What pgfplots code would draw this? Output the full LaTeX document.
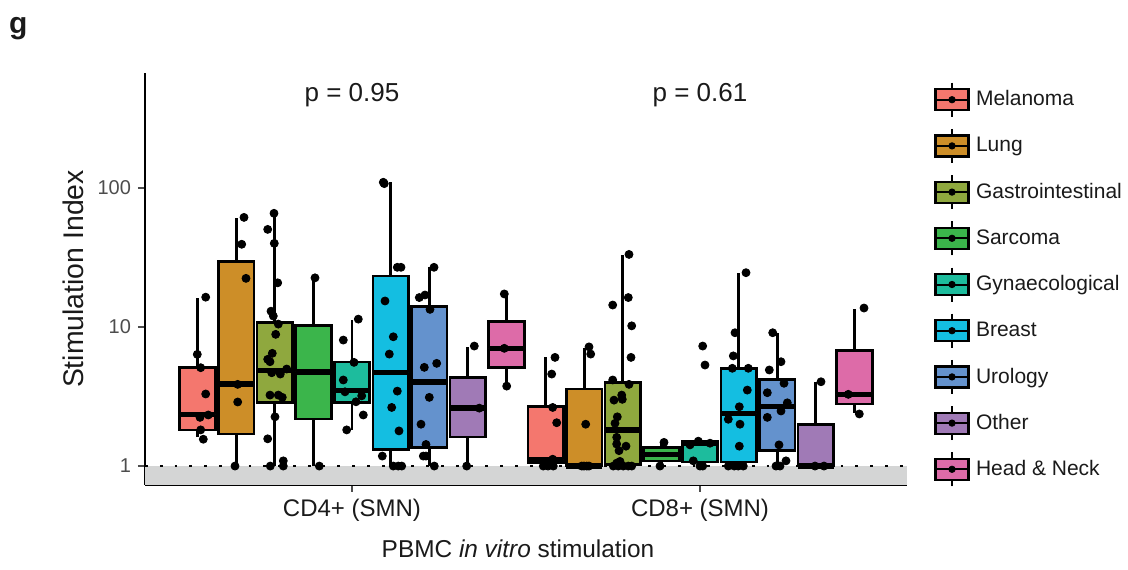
\documentclass[border=0pt]{standalone}
\usepackage{fontspec}
\setmainfont{Liberation Sans}
\usepackage{pgfplots}
\usepackage{pgfplotstable}
\usepgfplotslibrary{statistics}
\pgfplotsset{compat=1.18}

\definecolor{cMel}{HTML}{F4776E}
\definecolor{cLun}{HTML}{CD8E28}
\definecolor{cGas}{HTML}{8FA83E}
\definecolor{cSar}{HTML}{3BB54B}
\definecolor{cGyn}{HTML}{1DBC9D}
\definecolor{cBre}{HTML}{14BEE1}
\definecolor{cUro}{HTML}{6492CD}
\definecolor{cOth}{HTML}{A07AB6}
\definecolor{cHea}{HTML}{DD6BA8}
\definecolor{band}{HTML}{D4D5D5}
\definecolor{txt}{HTML}{1A1A1A}
\definecolor{tick}{HTML}{4D4D4D}

% jittered points: x = position on the plot, y = stimulation index
\pgfplotstableread{
x y
205.7 16.4
197.3 6.36
200.7 5.10
205.7 3.30
200.0 2.24
208.3 2.33
200.7 1.82
203.3 1.56
244.0 61.5
241.7 39.4
246.0 22.4
237.7 3.87
237.7 2.89
235.0 1.0
274.0 65.8
267.7 50.4
274.3 40.0
277.7 20.8
271.0 13.0
273.3 12.0
278.3 10.5
275.7 8.86
272.3 6.47
267.7 5.86
270.0 5.63
271.7 4.69
280.3 4.59
286.7 4.99
270.0 3.24
278.3 3.24
282.3 3.12
275.0 2.26
267.7 1.57
283.3 1.09
283.3 1.0
270.3 1.0
315.0 22.6
319.3 1.0
358.3 11.4
343.3 8.06
354.0 5.57
343.3 4.16
345.0 3.42
361.7 3.20
356.0 2.90
363.3 2.33
346.7 1.82
383.3 110
384.3 107.6
397.3 26.9
401.0 26.9
385.0 15.4
393.3 8.51
389.3 6.39
397.3 3.46
391.7 2.64
399.0 1.79
382.3 1.18
393.3 1.0
398.3 1.0
401.7 1.0
434.0 26.9
419.3 16.3
425.0 17.0
430.0 13.4
424.3 5.13
436.7 5.48
429.3 3.12
421.0 2.00
426.0 1.43
423.3 1.18
426.0 1.18
434.3 1.0
474.3 7.3
479.3 2.61
466.7 1.0
504.3 17.3
504.3 7.03
506.7 3.76
}\ptsCDfour

\pgfplotstableread{
x y
555.0 6.05
551.7 4.59
552.7 2.64
556.7 2.05
552.7 1.12
553.3 1.10
543.3 1.0
553.3 1.0
548.0 1.0
589.0 7.2
590.7 6.39
585.7 2.0
581.7 1.0
586.7 1.0
589.0 1.0
584.0 1.0
629.0 33.3
628.3 16.3
612.7 14.4
631.7 10.2
631.0 6.05
612.7 4.16
629.0 3.87
621.7 3.24
622.3 3.02
614.0 2.98
617.3 2.26
615.0 2.03
616.7 1.61
626.0 1.39
616.7 1.44
619.0 1.29
620.0 1.08
616.7 1.05
618.3 1.0
623.3 1.0
628.3 1.0
631.7 1.0
613.3 1.0
664.0 1.48
660.0 1.0
702.7 7.3
705.0 5.33
690.0 1.42
698.3 1.51
710.0 1.46
693.3 1.09
700.0 1.0
702.7 1.0
746.0 24.6
735.0 9.1
733.3 6.2
732.3 5.05
748.3 5.05
747.3 3.52
739.3 2.67
728.3 2.17
740.0 2.0
739.3 1.39
728.3 1.0
734.3 1.0
738.3 1.0
743.3 1.0
772.7 9.1
781.0 5.63
769.3 4.91
784.0 3.94
767.3 3.37
787.3 2.85
781.0 2.49
767.3 2.24
779.0 1.42
786.0 1.09
776.0 1.0
780.0 1.0
821.0 4.04
824.0 1.0
815.0 1.0
864.0 13.7
848.3 3.28
859.3 2.37
}\ptsCDeight

\begin{document}
\begin{tikzpicture}
\begin{axis}[
  scale only axis, width=381pt, height=205.6pt,
  xmin=145, xmax=907, ymode=log, ymin=0.736, ymax=668,
  axis x line*=bottom, axis y line*=left,
  axis line style={line width=1.2pt, black},
  xtick={352,700}, xticklabels={CD4+ (SMN),CD8+ (SMN)},
  ytick={1,10,100}, yticklabels={1,10,100},
  yminorticks=false, xminorticks=false,
  tick align=outside, major tick length=3.5pt,
  tick style={line width=1.1pt, color=tick},
  /pgf/number format/assume math mode=true,
  xticklabel style={font=\fontsize{12}{14}\selectfont, text=txt},
  yticklabel style={font=\fontsize{10}{12}\selectfont, text=tick},
  xlabel={PBMC \textit{in vitro} stimulation},
  ylabel={Stimulation Index},
  xlabel style={at={(axis cs:518,0.2529)}, anchor=center,
    font=\fontsize{12.2}{14}\selectfont, text=txt},
  ylabel style={at={(axis cs:73,22.14)}, anchor=center,
    font=\fontsize{14.2}{16}\selectfont, text=txt},
  clip=false,
  boxplot/draw direction=y,
  boxplot/box extend=35.5,
  boxplot/whisker extend=0,
  boxplot/every box/.style={line width=1.35pt},
  boxplot/every whisker/.style={line width=1.35pt},
  boxplot/every median/.style={line width=2.7pt},
  legend image code/.code={
    \draw[black, line width=1pt] (8.25pt,-8.5pt) -- (8.25pt,8.5pt);
    \draw[#1, draw=black, line width=1.1pt] (0pt,-5.25pt) rectangle (16.5pt,5.25pt);
    \draw[black, line width=1pt] (0pt,0pt) -- (16.5pt,0pt);
    \fill[black] (8.25pt,0pt) circle (1.6pt);
  },
  legend cell align=left,
  legend style={at={(axis cs:928,626)}, anchor=north west, draw=none, fill=none,
    row sep=5.1pt, column sep=1.2pt, font=\fontsize{10.5}{12}\selectfont, text=txt},
]
% reference band below 1
\addplot[draw=none, fill=band, forget plot] coordinates {(145,0.736) (145,1) (907,1) (907,0.736)} -- cycle;
\addplot[black, line width=1.3pt, dash pattern=on 1.4pt off 6pt, forget plot] coordinates {(145,1) (907,1)};

% CD4+ boxes
\addplot[boxplot prepared={draw position=197.6, lower whisker=1.63, lower quartile=1.82, median=2.36, upper quartile=5.10, upper whisker=16.1}, fill=cMel, draw=black, forget plot] coordinates {};
\addplot[boxplot prepared={draw position=236.2, lower whisker=1.0, lower quartile=1.70, median=3.89, upper quartile=29.5, upper whisker=60.5}, fill=cLun, draw=black, forget plot] coordinates {};
\addplot[boxplot prepared={draw position=274.8, lower whisker=1.0, lower quartile=2.85, median=4.85, upper quartile=10.8, upper whisker=65.8}, fill=cGas, draw=black, forget plot] coordinates {};
\addplot[boxplot prepared={draw position=313.4, lower whisker=1.0, lower quartile=2.18, median=4.75, upper quartile=10.3, upper whisker=22.6}, fill=cSar, draw=black, forget plot] coordinates {};
\addplot[boxplot prepared={draw position=352.0, lower whisker=1.82, lower quartile=2.87, median=3.48, upper quartile=5.60, upper whisker=11.2}, fill=cGyn, draw=black, forget plot] coordinates {};
\addplot[boxplot prepared={draw position=390.6, lower whisker=1.0, lower quartile=1.32, median=4.72, upper quartile=23.3, upper whisker=111}, fill=cBre, draw=black, forget plot] coordinates {};
\addplot[boxplot prepared={draw position=429.2, lower whisker=1.0, lower quartile=1.36, median=4.02, upper quartile=14.0, upper whisker=26.9}, fill=cUro, draw=black, forget plot] coordinates {};
\addplot[boxplot prepared={draw position=467.8, lower whisker=1.0, lower quartile=1.62, median=2.61, upper quartile=4.35, upper whisker=7.21}, fill=cOth, draw=black, forget plot] coordinates {};
\addplot[boxplot prepared={draw position=506.4, lower whisker=3.76, lower quartile=5.13, median=7.03, upper quartile=11.0, upper whisker=17.3}, fill=cHea, draw=black, forget plot] coordinates {};

% CD8+ boxes
\addplot[boxplot prepared={draw position=545.6, lower whisker=1.0, lower quartile=1.06, median=1.12, upper quartile=2.67, upper whisker=6.05}, fill=cMel, draw=black, forget plot] coordinates {};
\addplot[boxplot prepared={draw position=584.2, lower whisker=1.0, lower quartile=1.0, median=1.0, upper quartile=3.58, upper whisker=7.03}, fill=cLun, draw=black, forget plot] coordinates {};
\addplot[boxplot prepared={draw position=622.8, lower whisker=1.0, lower quartile=1.03, median=1.82, upper quartile=3.97, upper whisker=33.0}, fill=cGas, draw=black, forget plot] coordinates {};
\addplot[boxplot prepared={draw position=661.4, lower whisker=1.0, lower quartile=1.09, median=1.21, upper quartile=1.36, upper whisker=1.48}, fill=cSar, draw=black, forget plot] coordinates {};
\addplot[boxplot prepared={draw position=700.0, lower whisker=1.0, lower quartile=1.07, median=1.46, upper quartile=1.50, upper whisker=1.51}, fill=cGyn, draw=black, forget plot] coordinates {};
\addplot[boxplot prepared={draw position=738.6, lower whisker=1.0, lower quartile=1.07, median=2.39, upper quartile=5.05, upper whisker=24.3}, fill=cBre, draw=black, forget plot] coordinates {};
\addplot[boxplot prepared={draw position=777.2, lower whisker=1.0, lower quartile=1.30, median=2.67, upper quartile=4.21, upper whisker=9.0}, fill=cUro, draw=black, forget plot] coordinates {};
\addplot[boxplot prepared={draw position=815.8, lower whisker=1.0, lower quartile=1.0, median=1.0, upper quartile=2.0, upper whisker=4.0}, fill=cOth, draw=black, forget plot] coordinates {};
\addplot[boxplot prepared={draw position=854.4, lower whisker=2.39, lower quartile=2.79, median=3.28, upper quartile=6.75, upper whisker=13.4}, fill=cHea, draw=black, forget plot] coordinates {};

% points
\addplot[only marks, mark=*, mark size=2pt, black, forget plot] table[x=x, y=y] {\ptsCDfour};
\addplot[only marks, mark=*, mark size=2pt, black, forget plot] table[x=x, y=y] {\ptsCDeight};

% legend
\addlegendimage{fill=cMel}\addlegendentry{Melanoma}
\addlegendimage{fill=cLun}\addlegendentry{Lung}
\addlegendimage{fill=cGas}\addlegendentry{Gastrointestinal}
\addlegendimage{fill=cSar}\addlegendentry{Sarcoma}
\addlegendimage{fill=cGyn}\addlegendentry{Gynaecological}
\addlegendimage{fill=cBre}\addlegendentry{Breast}
\addlegendimage{fill=cUro}\addlegendentry{Urology}
\addlegendimage{fill=cOth}\addlegendentry{Other}
\addlegendimage{fill=cHea}\addlegendentry{Head \& Neck}

\node[anchor=base, font=\fontsize{13}{15}\selectfont, text=txt] at (axis cs:352,422.6) {p = 0.95};
\node[anchor=base, font=\fontsize{13}{15}\selectfont, text=txt] at (axis cs:700,422.6) {p = 0.61};
\node[anchor=base west, font=\bfseries\fontsize{15}{17}\selectfont, text=txt] at (axis cs:2,1303) {g};

\coordinate (TL) at (axis cs:0,2252);
\coordinate (BR) at (axis cs:1128,0.1815);
\end{axis}
\pgfresetboundingbox
\path[use as bounding box] (TL) rectangle (BR);
\end{tikzpicture}
\end{document}
